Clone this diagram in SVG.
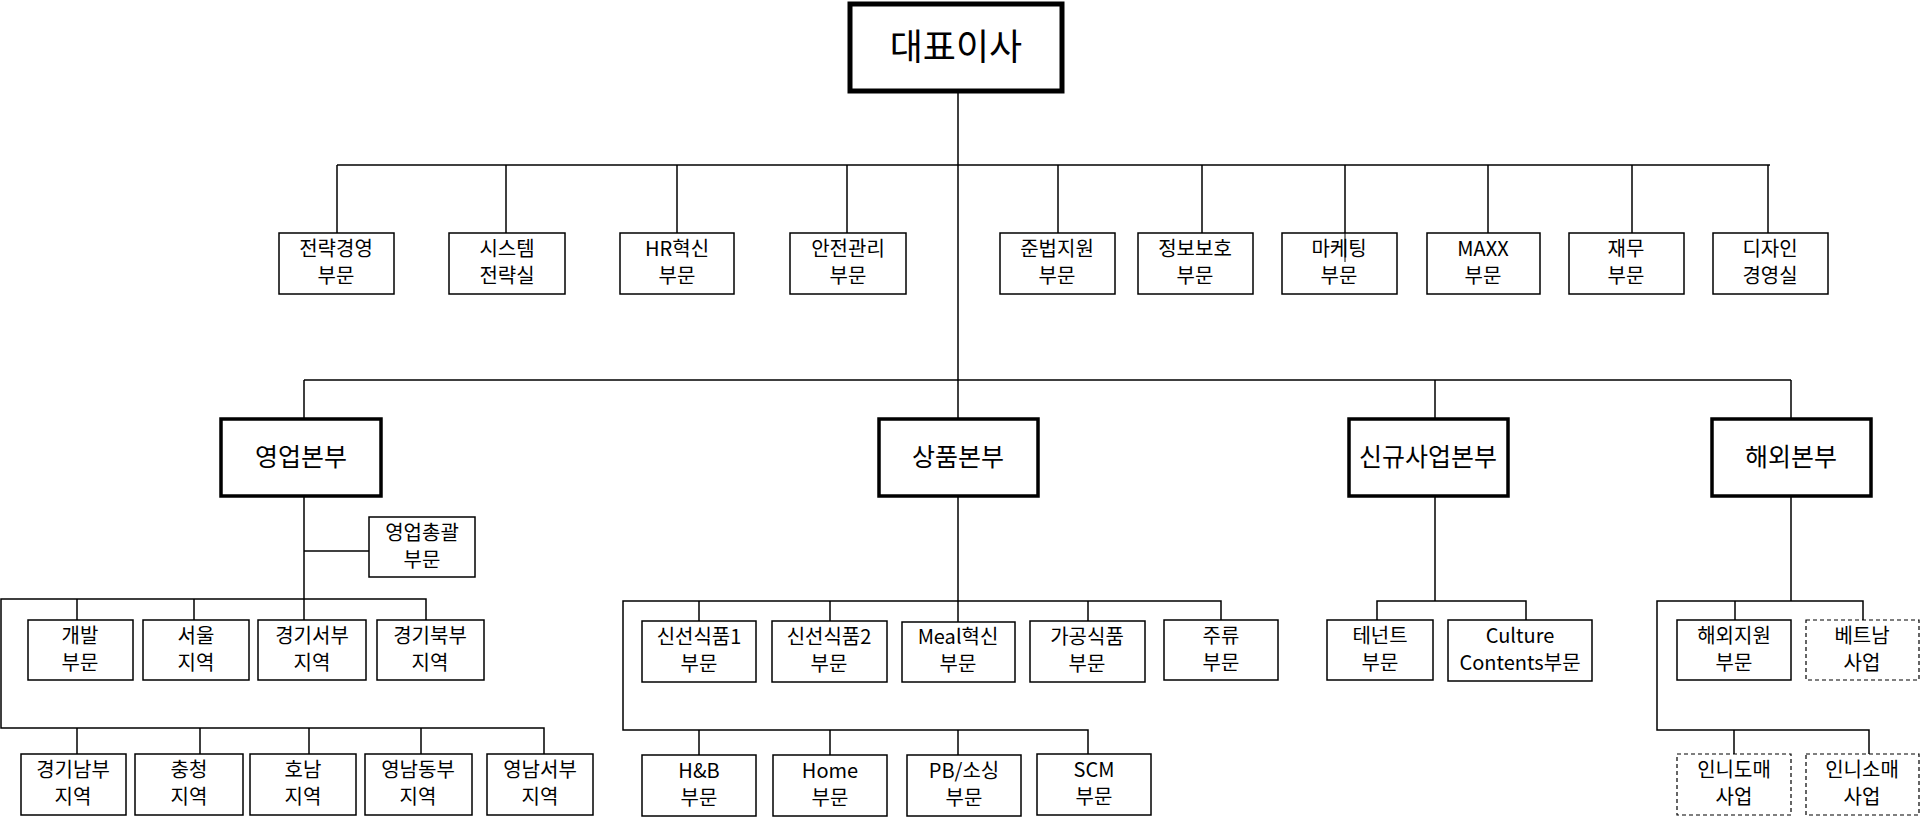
<svg xmlns="http://www.w3.org/2000/svg" width="1922" height="826" viewBox="0 0 1922 826">
<style>
.b{fill:#fff;stroke:#000;stroke-width:1.5}
.d{fill:#fff;stroke:#000;stroke-width:1.2;stroke-dasharray:4 3}
.h{fill:#fff;stroke:#000;stroke-width:3.5}
.c{fill:#fff;stroke:#000;stroke-width:5}
text{font-family:"Noto Sans CJK KR","Liberation Sans",sans-serif;font-size:20px;text-anchor:middle;fill:#000}
.t{font-size:25px}
.ceo{font-size:36px}
#con line,#con polyline{stroke:#000;stroke-width:1.5;fill:none}
</style>
<rect width="1922" height="826" fill="#fff"/>
<g id="con">
<line x1="958" y1="92" x2="958" y2="601"/>
<line x1="337" y1="165" x2="1770" y2="165"/>
<line x1="337" y1="165" x2="337" y2="233"/><line x1="506" y1="165" x2="506" y2="233"/><line x1="677" y1="165" x2="677" y2="233"/><line x1="847" y1="165" x2="847" y2="233"/>
<line x1="1058" y1="165" x2="1058" y2="233"/><line x1="1202" y1="165" x2="1202" y2="233"/><line x1="1345" y1="165" x2="1345" y2="233"/><line x1="1488" y1="165" x2="1488" y2="233"/><line x1="1632" y1="165" x2="1632" y2="233"/><line x1="1768" y1="165" x2="1768" y2="233"/>
<line x1="304" y1="380" x2="1791" y2="380"/>
<line x1="304" y1="380" x2="304" y2="418"/><line x1="1435" y1="380" x2="1435" y2="418"/><line x1="1791" y1="380" x2="1791" y2="418"/>
<line x1="304" y1="497" x2="304" y2="599"/>
<line x1="304" y1="551" x2="369" y2="551"/>
<polyline points="426,620 426,599 1,599 1,728 544,728 544,754"/>
<line x1="77" y1="599" x2="77" y2="620"/><line x1="194" y1="599" x2="194" y2="620"/><line x1="304" y1="599" x2="304" y2="620"/>
<line x1="77" y1="728" x2="77" y2="754"/><line x1="200" y1="728" x2="200" y2="754"/><line x1="309" y1="728" x2="309" y2="754"/><line x1="421" y1="728" x2="421" y2="754"/>
<polyline points="1221,621 1221,601 623,601 623,730 1088,730 1088,755"/>
<line x1="699" y1="601" x2="699" y2="621"/><line x1="830" y1="601" x2="830" y2="621"/><line x1="958" y1="601" x2="958" y2="622"/><line x1="1088" y1="601" x2="1088" y2="621"/>
<line x1="699" y1="730" x2="699" y2="755"/><line x1="830" y1="730" x2="830" y2="755"/><line x1="958" y1="730" x2="958" y2="755"/>
<line x1="1435" y1="497" x2="1435" y2="601"/>
<polyline points="1377,620 1377,601 1526,601 1526,620"/>
<line x1="1791" y1="497" x2="1791" y2="601"/>
<polyline points="1863,620 1863,601 1657,601 1657,730 1869,730 1869,754"/>
<line x1="1735" y1="601" x2="1735" y2="620"/><line x1="1734" y1="730" x2="1734" y2="754"/>
</g>
<g id="ceo"><rect class="c" x="850" y="4" width="212" height="87"/><text class="ceo" x="956" y="60">대표이사</text></g>
<g id="n1"><rect class="b" x="279" y="233" width="115" height="61"/><text x="336" y="256">전략경영</text><text x="336" y="283">부문</text></g>
<g id="n2"><rect class="b" x="449" y="233" width="116" height="61"/><text x="507" y="256">시스템</text><text x="507" y="283">전략실</text></g>
<g id="n3"><rect class="b" x="620" y="233" width="114" height="61"/><text x="677" y="256">HR혁신</text><text x="677" y="283">부문</text></g>
<g id="n4"><rect class="b" x="790" y="233" width="116" height="61"/><text x="848" y="256">안전관리</text><text x="848" y="283">부문</text></g>
<g id="n5"><rect class="b" x="1000" y="233" width="115" height="61"/><text x="1057" y="256">준법지원</text><text x="1057" y="283">부문</text></g>
<g id="n6"><rect class="b" x="1138" y="233" width="115" height="61"/><text x="1195" y="256">정보보호</text><text x="1195" y="283">부문</text></g>
<g id="n7"><rect class="b" x="1282" y="233" width="115" height="61"/><text x="1339" y="256">마케팅</text><text x="1339" y="283">부문</text><line x1="1345" y1="233" x2="1345" y2="262" stroke="#000" stroke-width="1"/></g>
<g id="n8"><rect class="b" x="1427" y="233" width="113" height="61"/><text x="1483" y="256">MAXX</text><text x="1483" y="283">부문</text></g>
<g id="n9"><rect class="b" x="1569" y="233" width="115" height="61"/><text x="1626" y="256">재무</text><text x="1626" y="283">부문</text></g>
<g id="n10"><rect class="b" x="1713" y="233" width="115" height="61"/><text x="1770" y="256">디자인</text><text x="1770" y="283">경영실</text></g>
<g id="h1"><rect class="h" x="221" y="419" width="160" height="77"/><text class="t" x="301" y="466">영업본부</text></g>
<g id="h2"><rect class="h" x="879" y="419" width="159" height="77"/><text class="t" x="958" y="466">상품본부</text></g>
<g id="h3"><rect class="h" x="1349" y="419" width="159" height="77"/><text class="t" x="1428" y="466">신규사업본부</text></g>
<g id="h4"><rect class="h" x="1712" y="419" width="159" height="77"/><text class="t" x="1791" y="466">해외본부</text></g>
<g id="s0"><rect class="b" x="369" y="517" width="106" height="60"/><text x="422" y="540">영업총괄</text><text x="422" y="567">부문</text></g>
<g id="s1"><rect class="b" x="28" y="620" width="105" height="60"/><text x="80" y="643">개발</text><text x="80" y="670">부문</text></g>
<g id="s2"><rect class="b" x="143" y="620" width="106" height="60"/><text x="196" y="643">서울</text><text x="196" y="670">지역</text></g>
<g id="s3"><rect class="b" x="258" y="620" width="108" height="60"/><text x="312" y="643">경기서부</text><text x="312" y="670">지역</text></g>
<g id="s4"><rect class="b" x="377" y="620" width="107" height="60"/><text x="430" y="643">경기북부</text><text x="430" y="670">지역</text></g>
<g id="s5"><rect class="b" x="21" y="754" width="105" height="61"/><text x="73" y="777">경기남부</text><text x="73" y="804">지역</text></g>
<g id="s6"><rect class="b" x="135" y="754" width="108" height="61"/><text x="189" y="777">충청</text><text x="189" y="804">지역</text></g>
<g id="s7"><rect class="b" x="250" y="754" width="106" height="61"/><text x="303" y="777">호남</text><text x="303" y="804">지역</text></g>
<g id="s8"><rect class="b" x="365" y="754" width="107" height="61"/><text x="418" y="777">영남동부</text><text x="418" y="804">지역</text></g>
<g id="s9"><rect class="b" x="487" y="754" width="106" height="61"/><text x="540" y="777">영남서부</text><text x="540" y="804">지역</text></g>
<g id="p1"><rect class="b" x="642" y="621" width="114" height="61"/><text x="699" y="644">신선식품1</text><text x="699" y="671">부문</text></g>
<g id="p2"><rect class="b" x="772" y="621" width="115" height="61"/><text x="829" y="644">신선식품2</text><text x="829" y="671">부문</text></g>
<g id="p3"><rect class="b" x="902" y="622" width="113" height="60"/><text x="958" y="644">Meal혁신</text><text x="958" y="671">부문</text></g>
<g id="p4"><rect class="b" x="1030" y="621" width="115" height="61"/><text x="1087" y="644">가공식품</text><text x="1087" y="671">부문</text></g>
<g id="p5"><rect class="b" x="1164" y="620" width="114" height="60"/><text x="1221" y="643">주류</text><text x="1221" y="670">부문</text></g>
<g id="p6"><rect class="b" x="642" y="755" width="114" height="61"/><text x="699" y="778">H&amp;B</text><text x="699" y="805">부문</text></g>
<g id="p7"><rect class="b" x="773" y="755" width="114" height="61"/><text x="830" y="778">Home</text><text x="830" y="805">부문</text></g>
<g id="p8"><rect class="b" x="907" y="755" width="114" height="61"/><text x="964" y="778">PB/소싱</text><text x="964" y="805">부문</text></g>
<g id="p9"><rect class="b" x="1037" y="754" width="114" height="61"/><text x="1094" y="777">SCM</text><text x="1094" y="804">부문</text></g>
<g id="q1"><rect class="b" x="1327" y="620" width="106" height="60"/><text x="1380" y="643">테넌트</text><text x="1380" y="670">부문</text></g>
<g id="q2"><rect class="b" x="1448" y="620" width="144" height="61"/><text x="1520" y="643">Culture</text><text x="1520" y="670">Contents부문</text></g>
<g id="o1"><rect class="b" x="1677" y="620" width="114" height="60"/><text x="1734" y="643">해외지원</text><text x="1734" y="670">부문</text></g>
<g id="o2"><rect class="d" x="1806" y="620" width="113" height="60"/><text x="1862" y="643">베트남</text><text x="1862" y="670">사업</text></g>
<g id="o3"><rect class="d" x="1677" y="754" width="114" height="61"/><text x="1734" y="777">인니도매</text><text x="1734" y="804">사업</text></g>
<g id="o4"><rect class="d" x="1806" y="754" width="113" height="61"/><text x="1862" y="777">인니소매</text><text x="1862" y="804">사업</text></g>
</svg>
